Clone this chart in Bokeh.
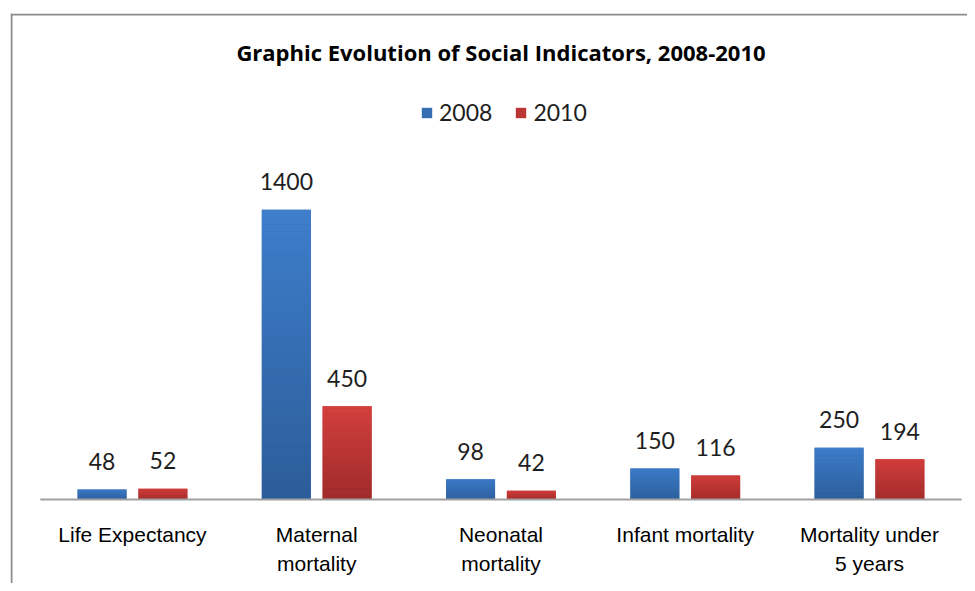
from bokeh.plotting import figure
from bokeh.models import Range1d, Span, Label, Legend, LegendItem
from bokeh.core.properties import value
from bokeh.embed import file_html
from bokeh.resources import INLINE

# ---- data ----
categories = ["Life Expectancy", "Maternal\nmortality", "Neonatal\nmortality",
              "Infant mortality", "Mortality under\n5 years"]
series = ["2008", "2010"]
values_2008 = [48, 1400, 98, 150, 250]
values_2010 = [52, 450, 42, 116, 194]
title_text = "Graphic Evolution of Social Indicators, 2008-2010"

# ---- layout ----
W, H = 967, 583
ML, MT = 10, 13
FW, FH = W - ML, H - MT
x_start, x_end = -0.662, 4.532
y_start, y_end = -406, 2348
ppx = FW / (x_end - x_start)
ppy = FH / (y_end - y_start)

p = figure(width=W, height=H, x_range=Range1d(x_start, x_end),
           y_range=Range1d(y_start, y_end), output_backend="svg",
           toolbar_location=None, x_axis_location=None, y_axis_location=None,
           min_border_left=ML, min_border_top=MT, min_border_right=0,
           min_border_bottom=0)
p.title.visible = False
for g in p.grid:
    g.visible = False
p.outline_line_color = None
p.background_fill_color = "white"
p.border_fill_color = "white"

# outer frame (left and top edges visible in the reference)
p.add_layout(Span(location=x_start + 1 / ppx, dimension="height", line_color="#8c8c8c", line_width=2))
p.add_layout(Span(location=y_end - 1 / ppy, dimension="width", line_color="#8c8c8c", line_width=2))

idx = list(range(len(categories)))
off = 0.165
bw = 0.266
x08 = [i - off for i in idx]
x10 = [i + off for i in idx]


def hexc(rgb):
    return "#%02x%02x%02x" % tuple(int(round(c)) for c in rgb)


def gradient(xs, vals, top_rgb, bot_rgb, n=40):
    X, B, T, C = [], [], [], []
    for x, v in zip(xs, vals):
        for k in range(n):
            f = (k + 0.5) / n
            X.append(x)
            B.append(v * k / n)
            T.append(v * (k + 1) / n)
            C.append(hexc([b + (t - b) * f for t, b in zip(top_rgb, bot_rgb)]))
    return dict(x=X, bottom=B, top=T, color=C)


blue_top, blue_bot = (62, 126, 204), (44, 92, 152)
red_top, red_bot = (212, 64, 62), (156, 42, 42)

r08 = p.vbar(x=x08, top=values_2008, width=bw, fill_color=hexc((54, 110, 180)), line_color=None)
r10 = p.vbar(x=x10, top=values_2010, width=bw, fill_color=hexc((190, 54, 52)), line_color=None)
p.vbar(x="x", bottom="bottom", top="top", width=bw, fill_color="color", line_color=None,
       source=gradient(x08, values_2008, blue_top, blue_bot))
p.vbar(x="x", bottom="bottom", top="top", width=bw, fill_color="color", line_color=None,
       source=gradient(x10, values_2010, red_top, red_bot))

# baseline
p.segment(x0=[-0.5], y0=[0], x1=[len(categories) - 0.5], y1=[0], line_color="#a0a0a0", line_width=2)

# value labels
lab_gap = 28 / ppy
for xs, vals in ((x08, values_2008), (x10, values_2010)):
    p.text(x=xs, y=[v + lab_gap for v in vals], text=[str(v) for v in vals],
           text_align="center", text_baseline="middle", text_font=value("Lato"),
           text_font_size="23px", text_color="#1e1e1e")

# category labels
p.text(x=idx, y=[-24 / ppy] * len(idx), text=categories, text_align="center",
       text_baseline="top", text_font=value("Liberation Sans"), text_font_size="21px",
       text_color="#000000", text_line_height=1.25)

# title
p.add_layout(Label(x=2, y=y_end - 38 / ppy, text=title_text, text_align="center",
                   text_baseline="middle", text_font="Open Sans", text_font_style="bold",
                   text_font_size="22px", text_color="#000000"))

legend = Legend(items=[LegendItem(label=series[0], renderers=[r08]),
                       LegendItem(label=series[1], renderers=[r10])],
                orientation="horizontal", location=(410, 457), padding=0, margin=0,
                spacing=22, glyph_width=13, glyph_height=13, label_standoff=6,
                label_text_font="Lato", label_text_font_size="23px",
                label_text_color="#1e1e1e", border_line_color=None,
                background_fill_alpha=0)
p.add_layout(legend)

open("out.html", "w").write(file_html(p, INLINE))
